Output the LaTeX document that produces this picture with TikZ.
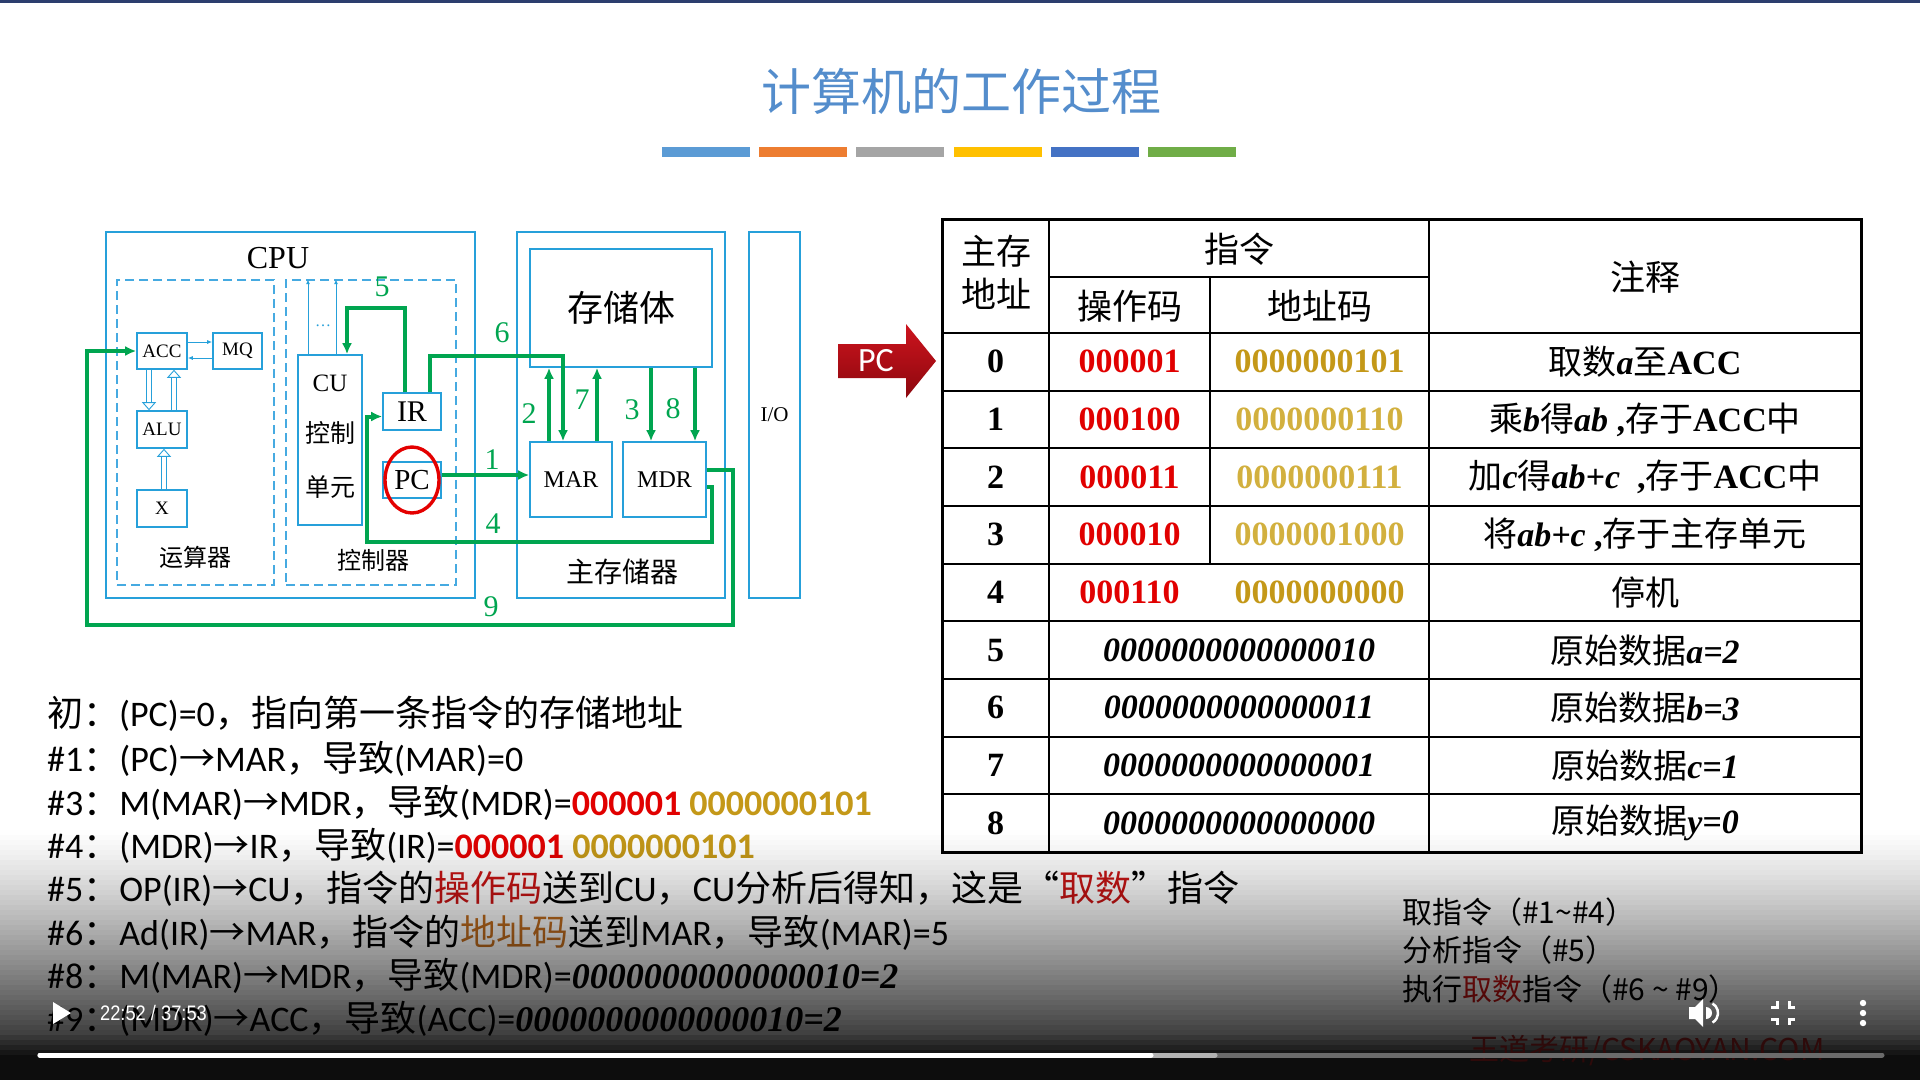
\documentclass[tikz,border=0pt]{standalone}
\usepackage{fontspec}
\usepackage{xcolor}
\usepackage{tikz}
\usetikzlibrary{calc, positioning, arrows.meta}

\newfontfamily\cjk{Noto Sans CJK SC}
\newfontfamily\tms{Liberation Serif}
\newfontfamily\calfont{Carlito}
\newfontfamily\lsans{Liberation Sans}
\newcommand{\zh}[1]{{\cjk #1}}
\newcommand{\ital}[1]{{\tms\bfseries\itshape #1}}
\newcommand{\tbf}[1]{{\tms\bfseries #1}}

\definecolor{boxblue}{RGB}{38,160,218}
\definecolor{dashblue}{RGB}{70,170,225}
\definecolor{wiregreen}{RGB}{0,165,80}
\definecolor{titleblue}{RGB}{84,141,204}
\definecolor{opred}{RGB}{225,0,0}
\definecolor{adgold}{RGB}{196,152,24}
\definecolor{adgoldlt}{RGB}{210,176,62}
\definecolor{codered}{RGB}{200,20,20}
\definecolor{codebrown}{RGB}{196,110,30}
\definecolor{pctop}{RGB}{205,20,30}
\definecolor{pcbot}{RGB}{140,8,14}
\definecolor{ringred}{RGB}{228,0,0}
\definecolor{topnavy}{RGB}{44,62,110}
\definecolor{wmred}{RGB}{46,10,10}
\definecolor{bar1}{RGB}{91,155,213}
\definecolor{bar2}{RGB}{237,125,49}
\definecolor{bar3}{RGB}{165,165,165}
\definecolor{bar4}{RGB}{255,192,0}
\definecolor{bar5}{RGB}{68,114,196}
\definecolor{bar6}{RGB}{112,173,71}

\begin{document}
\begin{tikzpicture}[x=1pt, y=-1pt, >={Latex[length=11pt,width=10pt]},
    outer/.style={draw=boxblue, line width=2.6pt, inner sep=0pt},
    part/.style={draw=dashblue, line width=1.6pt, dash pattern=on 9pt off 5pt, inner sep=0pt},
    reg/.style={draw=boxblue, line width=1.6pt, inner sep=0pt, font=\tms\fontsize{19}{22}\selectfont},
    lbl/.style={inner sep=0pt, font=\cjk\fontsize{24}{28}\selectfont},
    wire/.style={draw=wiregreen, line width=4pt},
    num/.style={text=wiregreen, inner sep=0pt, font=\tms\fontsize{30}{32}\selectfont},
    thinarr/.style={draw=boxblue, line width=1pt, -{Latex[length=5pt,width=4pt]}},
    hollow/.style={draw=boxblue, line width=0.9pt, double=white, double distance=4pt,
      -{Triangle[open, fill=white, length=8pt, width=14pt]}},
    cell/.style={inner sep=0pt, font=\tms\fontsize{34}{40}\selectfont},
    txt/.style={anchor=west, inner sep=0pt, font=\calfont\fontsize{36}{40}\selectfont}]

    % 1. 背景、标题与色条
    \fill[white] (0,0) rectangle (1920,1080);
    \useasboundingbox (0,0) rectangle (1920,1080);
    \fill[topnavy] (0,0) rectangle (1920,3);
    \node[font=\cjk\fontsize{50}{60}\selectfont, text=titleblue] (title) at (961,91) {计算机的工作过程};
    \foreach \c [count=\k from 0] in {bar1,bar2,bar3,bar4,bar5,bar6}
        \fill[\c] ({662+97.2*\k},147) rectangle ++(88,10);

    % 2. CPU：运算器与控制器
    \node[outer, minimum width=369pt, minimum height=366pt] (cpu) at (290.5,415) {};
    \node[inner sep=0pt, font=\tms\fontsize{32}{36}\selectfont] (cputxt) at (278,258) {CPU};
    \node[part, minimum width=157pt, minimum height=305pt] (alubox) at (195.5,432.5) {};
    \node[part, minimum width=170pt, minimum height=305pt] (ctlbox) at (371,432.5) {};
    \node[reg, minimum width=50pt, minimum height=36pt] (acc) at (162,351) {ACC};
    \node[reg, minimum width=49pt, minimum height=36pt] (mq) at (237.5,351) {MQ};
    \node[reg, minimum width=50pt, minimum height=37pt] (alu) at (162,429.5) {ALU};
    \node[reg, minimum width=50pt, minimum height=37pt] (xreg) at (162,508.5) {X};
    \node[lbl] (alutxt) at (195,557) {运算器};
    \draw[thinarr] ([yshift=9pt]acc.east) -- ([yshift=9pt]mq.west);
    \draw[thinarr] ([yshift=-7pt]mq.west) -- ([yshift=-7pt]acc.east);
    \draw[hollow] ([xshift=-13pt]acc.south) -- ([xshift=-13pt]alu.north);
    \draw[hollow] ([xshift=12pt]alu.north) -- ([xshift=12pt]acc.south);
    \draw[hollow] ([xshift=2pt]xreg.north) -- ([xshift=2pt]alu.south);

    \node[reg, minimum width=64pt, minimum height=170pt] (cu) at (330,440) {};
    \node[inner sep=0pt, font=\tms\fontsize{25}{28}\selectfont] (cut) at (330,383) {CU};
    \node[lbl, font=\cjk\fontsize{25}{28}\selectfont] (cum) at (330,433) {控制};
    \node[lbl, font=\cjk\fontsize{25}{28}\selectfont] (cub) at (330,487) {单元};
    \draw[thinarr] ([xshift=-22pt]cu.north) -- ([xshift=-22pt]cu.north |- ctlbox.north);
    \draw[thinarr] ([xshift=6pt]cu.north) -- ([xshift=6pt]cu.north |- ctlbox.north);
    \node[text=boxblue, inner sep=0pt, font=\tms\fontsize{16}{16}\selectfont] (dots) at (323,326) {…};
    \node[reg, minimum width=58pt, minimum height=37pt, font=\tms\fontsize{30}{32}\selectfont] (ir) at (412,411.5) {IR};
    \node[reg, minimum width=58pt, minimum height=36pt, font=\tms\fontsize{29}{32}\selectfont] (pc) at (412,480) {PC};
    \draw[ringred, line width=3.4pt] (pc) ellipse [x radius=27pt, y radius=33pt];
    \node[lbl] (ctltxt) at (373,560) {控制器};

    % 3. 主存储器与 I/O
    \node[outer, minimum width=208pt, minimum height=366pt] (mem) at (621,415) {};
    \node[reg, minimum width=182pt, minimum height=118pt, font=\cjk\fontsize{36}{40}\selectfont] (bank) at (621,308) {存储体};
    \node[reg, minimum width=82pt, minimum height=75pt, font=\tms\fontsize{24}{28}\selectfont] (mar) at (571,479.5) {MAR};
    \node[reg, minimum width=83pt, minimum height=75pt, font=\tms\fontsize{24}{28}\selectfont] (mdr) at (664.5,479.5) {MDR};
    \node[lbl, font=\cjk\fontsize{28}{32}\selectfont] (memtxt) at (622,572) {主存储器};
    \node[outer, minimum width=51pt, minimum height=366pt, font=\tms\fontsize{21}{24}\selectfont] (io) at (774.5,415) {I/O};

    % 4. 数据通路 1~9
    \coordinate (c4r) at (712,542);
    \coordinate (c4l) at (367,542);
    \coordinate (c5) at (0,308);
    \coordinate (c6) at (0,356);
    \coordinate (c9r) at (733,625);
    \coordinate (c9l) at (87,625);
    \draw[wire,->] ([yshift=5pt]pc.east) -- ([yshift=5pt]pc.east -| mar.west);
    \draw[wire,->] ([xshift=-22pt]mar.north) -- ([xshift=-22pt]mar.north |- bank.south);
    \draw[wire,->] ([xshift=-13.5pt]mdr.north |- bank.south) -- ([xshift=-13.5pt]mdr.north);
    \draw[wire,->] ([yshift=-7.5pt]mdr.east) -| (c4r) -- (c4l) |- ([yshift=-5pt]ir.west);
    \draw[wire,->] ([xshift=-7pt]ir.north) |- ([xshift=17pt]cu.north |- c5) -- ([xshift=17pt]cu.north);
    \draw[wire,->] ([xshift=18pt]ir.north) |- ([xshift=-8pt]mar.north |- c6) -- ([xshift=-8pt]mar.north);
    \draw[wire,->] ([xshift=26pt]mar.north) -- ([xshift=26pt]mar.north |- bank.south);
    \draw[wire,->] ([xshift=30.5pt]mdr.north |- bank.south) -- ([xshift=30.5pt]mdr.north);
    \draw[wire,->] ([yshift=9.5pt]mdr.east) -| (c9r) -- (c9l) |- (acc.west);
    \node[num] (n1) at (492,460) {1};
    \node[num] (n2) at (529,414) {2};
    \node[num] (n3) at (632,410) {3};
    \node[num] (n4) at (493,524) {4};
    \node[num] (n5) at (382,287) {5};
    \node[num] (n6) at (502,333) {6};
    \node[num] (n7) at (582,400) {7};
    \node[num] (n8) at (673,409) {8};
    \node[num] (n9) at (491,607) {9};

    % 5. PC 箭头与主存表格
    \shade[top color=pctop, bottom color=pcbot] (838,344) -- (906,344) -- (906,324) -- (936,361)
        -- (906,398) -- (906,378) -- (838,378) -- cycle;
    \node[text=white, inner sep=0pt, font=\calfont\fontsize{34}{36}\selectfont] (pcarrow) at (876,361) {PC};

    \draw[line width=3pt] (942,219) rectangle (1861,852);
    \draw[line width=2pt] (1049,219) -- (1049,852) (1429,219) -- (1429,852)
        (1049,277) -- (1429,277) (1210,277) -- (1210,563.7);
    \foreach \k in {0,...,8}
        \draw[line width=2pt] (942,{333+57.67*\k}) -- (1861,{333+57.67*\k});
    \node[cell, font=\cjk\fontsize{35}{40}\selectfont] (h1a) at (996,251) {主存};
    \node[cell, font=\cjk\fontsize{35}{40}\selectfont] (h1b) at (996,294) {地址};
    \node[cell, font=\cjk\fontsize{35}{40}\selectfont] (h2) at (1239,249) {指令};
    \node[cell, font=\cjk\fontsize{35}{40}\selectfont] (h3) at (1129.5,306) {操作码};
    \node[cell, font=\cjk\fontsize{35}{40}\selectfont] (h4) at (1319.5,306) {地址码};
    \node[cell, font=\cjk\fontsize{35}{40}\selectfont] (h5) at (1645,277) {注释};

    \foreach \r/\op/\ad/\nt [evaluate=\r as \yy using 361.8+57.67*\r] in {
        0/000001/{\bfseries\color{adgold}0000000101}/{取数\ital{a}至\tbf{ACC}},
        1/000100/{\bfseries\color{adgoldlt}0000000110}/{乘\ital{b}得\ital{ab}\tbf{ ,}存于\tbf{ACC}中},
        2/000011/{\bfseries\color{adgoldlt}0000000111}/{加\ital{c}得\ital{ab+c}\tbf{\ \ ,}存于\tbf{ACC}中},
        3/000010/{\bfseries\color{adgoldlt}0000001000}/{将\ital{ab+c}\tbf{ ,}存于主存单元},
        4/000110/{\bfseries\color{adgold}0000000000}/{停机}} {
        \node[cell] (addr\r) at (995.5,\yy) {\bfseries\r};
        \node[cell, text=opred] (op\r) at (1129.5,\yy) {\bfseries\op};
        \node[cell] (ad\r) at (1319.5,\yy) {\ad};
        \node[cell, font=\cjk\fontsize{34}{40}\selectfont] (note\r) at (1645,\yy) {\nt};
    }
    \foreach \r/\dat/\nt [evaluate=\r as \yy using 361.8+57.67*\r] in {
        5/0000000000000010/{原始数据\ital{a=2}},
        6/0000000000000011/{原始数据\ital{b=3}},
        7/0000000000000001/{原始数据\ital{c=1}},
        8/0000000000000000/{原始数据\ital{y=0}}} {
        \node[cell] (addr\r) at (995.5,\yy) {\bfseries\r};
        \node[cell] (dat\r) at (1239,\yy) {\bfseries\itshape\dat};
        \node[cell, font=\cjk\fontsize{34}{40}\selectfont] (note\r) at (1645,\yy) {\nt};
    }

    % 6. 执行过程说明
    \node[txt] (l0) at (47,714) {\zh{初：}(PC)=0\zh{，指向第一条指令的存储地址}};
    \node[txt] (l1) at (47,759) {\#1\zh{：}(PC)\zh{→}MAR\zh{，导致}(MAR)=0};
    \node[txt] (l3) at (47,803) {\#3\zh{：}M(MAR)\zh{→}MDR\zh{，导致}(MDR)=\textcolor{opred}{\bfseries 000001} \textcolor{adgold}{\bfseries 0000000101}};
    \node[txt] (l4) at (47,846) {\#4\zh{：}(MDR)\zh{→}IR\zh{，导致}(IR)=\textcolor{opred}{\bfseries 000001} \textcolor{adgold}{\bfseries 0000000101}};
    \node[txt] (l5) at (47,889) {\#5\zh{：}OP(IR)\zh{→}CU\zh{，指令的\textcolor{codered}{操作码}送到}CU\zh{，}CU\zh{分析后得知，这是“\textcolor{codered}{取数}”指令}};
    \node[txt] (l6) at (47,933) {\#6\zh{：}Ad(IR)\zh{→}MAR\zh{，指令的\textcolor{codebrown}{地址码}送到}MAR\zh{，导致}(MAR)=5};
    \node[txt] (l8) at (47,976) {\#8\zh{：}M(MAR)\zh{→}MDR\zh{，导致}(MDR)=\ital{0000000000000010=2}};
    \node[txt] (l9) at (47,1019) {\#9\zh{：}(MDR)\zh{→}ACC\zh{，导致}(ACC)=\ital{0000000000000010=2}};

    \node[txt, font=\cjk\fontsize{30}{34}\selectfont] (s1) at (1402,912) {取指令（\#1\textasciitilde\#4）};
    \node[txt, font=\cjk\fontsize{30}{34}\selectfont] (s2) at (1402,950) {分析指令（\#5）};
    \node[txt, font=\cjk\fontsize{30}{34}\selectfont] (s3) at (1402,989) {执行\textcolor{codered}{取数}指令（\#6 \textasciitilde\ \#9）};

    % 7. 播放器遮罩与控件
    \foreach \k in {0,...,49} {
        \pgfmathsetmacro{\op}{min(0.95, 0.96*pow((\k+0.5)/50,1.2) + 0.18*max(0,(\k-40)/9))}
        \fill[black, fill opacity=\op] (0,{830+5*\k}) rectangle (1920,{835+5*\k});
    }
    \node[inner sep=0pt, text=wmred, font=\cjk\fontsize{30}{34}\selectfont] (wm) at (1647,1051) {王道考研/CSKAOYAN.COM};
    \draw[line width=5pt, line cap=round, black!58] (40,1055) -- (1882,1055);
    \draw[line width=5pt, line cap=round, black!30] (40,1055) -- (1215,1055);
    \draw[line width=5pt, line cap=round, white] (40,1055) -- (1151,1055);
    \fill[white] (53,1002) -- (71,1013) -- (53,1024) -- cycle;
    \node[anchor=west, inner sep=0pt, text=white, transform shape, xscale=0.87,
        font=\lsans\fontsize{21}{24}\selectfont] (time) at (100,1013) {22:52 / 37:53};
    \fill[white] (1689,1007) -- (1695,1007) -- (1703,999) -- (1703,1027) -- (1695,1019) -- (1689,1019) -- cycle;
    \fill[white] (1706,1007) arc[start angle=-90, end angle=90, radius=6] -- cycle;
    \draw[white, line width=2.5pt] (1707,1013) ++(-60:11) arc[start angle=-60, end angle=60, radius=11];
    \draw[white, line width=3pt] (1771,1007) -- (1777,1007) -- (1777,1001)
        (1795,1007) -- (1789,1007) -- (1789,1001)
        (1771,1019) -- (1777,1019) -- (1777,1025)
        (1795,1019) -- (1789,1019) -- (1789,1025);
    \foreach \d in {1003,1013,1023}
        \fill[white] (1863,\d) circle (3.2);
\end{tikzpicture}
\end{document}
